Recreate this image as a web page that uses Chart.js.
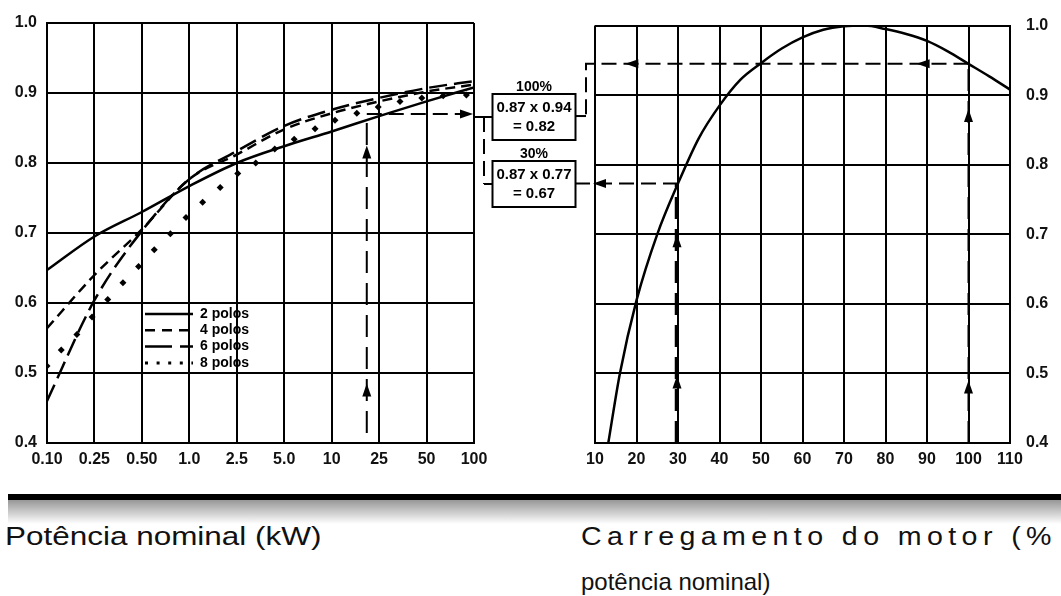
<!DOCTYPE html>
<html>
<head>
<meta charset="utf-8">
<script src="https://cdn.jsdelivr.net/npm/chart.js@4.4.0/dist/chart.umd.min.js"></script>
<style>
  body { margin: 0; background: #fff; width: 1061px; height: 596px; overflow: hidden; position: relative; font-family: "Liberation Sans", Arial, sans-serif; }
  canvas { position: absolute; top: 0; }
  #left { left: 0; }
  #right { left: 560px; }
  .bar { position: absolute; left: 8px; top: 494px; width: 1053px; height: 6px; background: #000; }
  .shade { position: absolute; left: 8px; top: 500px; width: 1053px; height: 24px; background: linear-gradient(#979797, #fff); }
  .cap { position: absolute; font-size: 26px; line-height: 26px; color: #111; white-space: nowrap; transform-origin: left top; }
  #capL { left: 5px; top: 523px; transform: scaleX(1.21); }
  #capR1 { left: 581px; top: 523px; letter-spacing: 4.9px; transform: scaleX(1.1); }
  #capR2 { left: 581px; top: 570px; font-size: 24px; line-height: 24px; }
</style>
</head>
<body>
<canvas id="left" width="600" height="480"></canvas>
<canvas id="right" width="501" height="480"></canvas>
<div class="bar"></div>
<div class="shade"></div>
<div class="cap" id="capL">Potência nominal (kW)</div>
<div class="cap" id="capR1">Carregamento do motor (%</div>
<div class="cap" id="capR2">potência nominal)</div>

<script>
// left panel: power factor vs rated power (x = position of the kW tick)
const kwLabels = ['0.10', '0.25', '0.50', '1.0', '2.5', '5.0', '10', '25', '50', '100'];
const kwPos = [0, 1, 2, 3, 4, 5, 6, 7, 8, 9];
const pf2 = [0.647, 0.695, 0.730, 0.767, 0.800, 0.824, 0.845, 0.867, 0.888, 0.908];
const pf4 = [0.564, 0.640, 0.705, 0.777, 0.812, 0.848, 0.871, 0.888, 0.902, 0.912];
const pf6 = [0.460, 0.604, 0.703, 0.777, 0.817, 0.853, 0.876, 0.893, 0.907, 0.917];
const pf8Pos = [0, 0.3, 0.63, 0.95, 1.28, 1.6, 1.93, 2.26, 2.6, 2.93, 3.28, 3.65, 4.02, 4.4, 4.8, 5.21, 5.65, 6.07, 6.53, 6.98, 7.44, 7.9, 8.35, 8.84];
const pf8 = [0.51, 0.533, 0.555, 0.58, 0.605, 0.629, 0.652, 0.676, 0.699, 0.722, 0.744, 0.765, 0.785, 0.80, 0.82, 0.834, 0.849, 0.861, 0.871, 0.88, 0.888, 0.893, 0.896, 0.897];
const poleNames = ['2 polos', '4 polos', '6 polos', '8 polos'];

// right panel: efficiency factor vs motor load
const loadPct = [13.2, 16, 20, 25, 30, 35, 40, 45, 50, 55, 60, 65, 70, 75, 80, 85, 90, 95, 100, 105, 110];
const loadEff = [0.40, 0.50, 0.605, 0.70, 0.773, 0.838, 0.885, 0.922, 0.946, 0.967, 0.983, 0.994, 0.999, 1.0, 0.995, 0.988, 0.978, 0.963, 0.945, 0.927, 0.908];

// worked example
const kwMark = 6.74;        // 22 kW motor
const pfMark = 0.87;
const loadCases = ['100%', '30%'];
const loadCaseX = [100, 30];
const loadCaseEff = [0.94, 0.77];
const loadCaseY = [0.945, 0.773];

Chart.defaults.font.family = '"Liberation Sans", Arial, sans-serif';
Chart.defaults.color = '#111';

function arrow(ctx, x, y, dir) {
  const L = 13, W = 4.5;
  ctx.beginPath();
  ctx.moveTo(x, y);
  if (dir === 'up') { ctx.lineTo(x - W, y + L); ctx.lineTo(x + W, y + L); }
  else if (dir === 'left') { ctx.lineTo(x + L, y - W); ctx.lineTo(x + L, y + W); }
  else { ctx.lineTo(x - L, y - W); ctx.lineTo(x - L, y + W); }
  ctx.closePath();
  ctx.fill();
}

function seg(ctx, pts, dash) {
  ctx.setLineDash(dash || []);
  ctx.beginPath();
  pts.forEach((p, i) => i ? ctx.lineTo(p[0], p[1]) : ctx.moveTo(p[0], p[1]));
  ctx.stroke();
  ctx.setLineDash([]);
}

const legendDash = [[], [10, 7], [27, 8], [3, 8.6]];

const leftNotes = {
  id: 'leftNotes',
  afterDraw(chart) {
    const { ctx, chartArea: a, scales: { x, y } } = chart;
    ctx.save();
    ctx.strokeStyle = '#000';
    ctx.fillStyle = '#000';
    ctx.lineWidth = 2;

    // legend box inside plot
    ctx.font = 'bold 14px "Liberation Sans", Arial, sans-serif';
    ctx.textBaseline = 'middle';
    ctx.textAlign = 'left';
    poleNames.forEach((name, i) => {
      const ly = a.top + 291 + i * 16.3;
      ctx.lineWidth = i === 3 ? 3 : 2.5;
      seg(ctx, [[a.left + 98, ly], [a.left + 146, ly]], legendDash[i]);
      ctx.fillText(name, a.left + 153, ly);
    });
    ctx.lineWidth = 2;

    // reading at 22 kW
    const px = x.getPixelForValue(kwMark);
    const py = y.getPixelForValue(pfMark);
    seg(ctx, [[px, a.bottom - 10], [px, py]], [22, 10]);
    arrow(ctx, px, y.getPixelForValue(0.825), 'up');
    arrow(ctx, px, y.getPixelForValue(0.485), 'up');
    seg(ctx, [[px, py], [a.right - 3, py]], [15, 7]);
    arrow(ctx, a.right - 1, py, 'right');

    // result boxes
    const boxL = a.right + 18.5, boxW = 83, boxH = 46;
    const cy = [py + 3, y.getPixelForValue(0.77)];
    seg(ctx, [[a.right, py + 3], [boxL, py + 3]]);
    seg(ctx, [[a.right + 10, py + 3], [a.right + 10, cy[1]]], [15, 7]);
    seg(ctx, [[a.right + 10, cy[1]], [boxL, cy[1]]]);
    ctx.textAlign = 'center';
    loadCases.forEach((lbl, i) => {
      const top = cy[i] - boxH / 2;
      ctx.strokeRect(boxL, top, boxW, boxH);
      const mx = boxL + boxW / 2;
      ctx.font = 'bold 14px "Liberation Sans", Arial, sans-serif';
      ctx.fillText(lbl, mx, top - 7);
      ctx.font = 'bold 15px "Liberation Sans", Arial, sans-serif';
      ctx.fillText(pfMark.toFixed(2) + ' x ' + loadCaseEff[i].toFixed(2), mx, top + 14);
      ctx.fillText('= ' + (pfMark * loadCaseEff[i]).toFixed(2), mx, top + 33);
    });
    ctx.restore();
  }
};

const rightNotes = {
  id: 'rightNotes',
  afterDraw(chart) {
    const { ctx, chartArea: a, scales: { x, y } } = chart;
    ctx.save();
    ctx.strokeStyle = '#000';
    ctx.fillStyle = '#000';
    ctx.lineWidth = 2;
    const boxR = a.left - 19;

    // 100 % load
    const x1 = x.getPixelForValue(loadCaseX[0]), y1 = y.getPixelForValue(loadCaseY[0]);
    seg(ctx, [[x1, a.bottom], [x1, y1]], [22, 10]);
    arrow(ctx, x1, y.getPixelForValue(0.88), 'up');
    arrow(ctx, x1, y.getPixelForValue(0.49), 'up');
    const cx = a.left - 9;
    const yb = y.getPixelForValue(pfMark);
    seg(ctx, [[x1, y1], [cx, y1], [cx, yb]], [15, 7]);
    arrow(ctx, x.getPixelForValue(87.5), y1, 'left');
    arrow(ctx, x.getPixelForValue(17.3), y1, 'left');
    seg(ctx, [[cx, yb], [boxR, yb]]);

    // 30 % load (dashes sit just left of the 30 grid line)
    const x2 = x.getPixelForValue(loadCaseX[1]), y2 = y.getPixelForValue(loadCaseY[1]);
    ctx.lineWidth = 2.5;
    seg(ctx, [[x2 - 2, a.bottom], [x2 - 2, y2]], [22, 10]);
    ctx.lineWidth = 2;
    arrow(ctx, x2 - 1, y.getPixelForValue(0.70), 'up');
    arrow(ctx, x2 - 1, y.getPixelForValue(0.497), 'up');
    seg(ctx, [[x2, y2], [boxR, y2]], [15, 7]);
    arrow(ctx, a.left - 2, y2, 'left');
    ctx.restore();
  }
};

const gridOpts = { color: '#000', lineWidth: 2, drawTicks: false };
const borderOpts = { color: '#000', width: 2 };
const tickFont = { size: 16, weight: 'bold' };
const yTickCb = v => v.toFixed(1);

new Chart(document.getElementById('left'), {
  type: 'line',
  data: {
    datasets: [
      { label: poleNames[0], data: kwPos.map((p, i) => ({ x: p, y: pf2[i] })), borderColor: '#000', borderWidth: 2.5, pointRadius: 0, cubicInterpolationMode: 'monotone' },
      { label: poleNames[1], data: kwPos.map((p, i) => ({ x: p, y: pf4[i] })), borderColor: '#000', borderWidth: 2.5, borderDash: [10, 6], pointRadius: 0, cubicInterpolationMode: 'monotone' },
      { label: poleNames[2], data: kwPos.map((p, i) => ({ x: p, y: pf6[i] })), borderColor: '#000', borderWidth: 2.5, borderDash: [18, 7], pointRadius: 0, cubicInterpolationMode: 'monotone' },
      { label: poleNames[3], data: pf8Pos.map((p, i) => ({ x: p, y: pf8[i] })), showLine: false, pointStyle: 'rectRot', pointRadius: 3.5, pointBackgroundColor: '#000', pointBorderWidth: 0 }
    ]
  },
  options: {
    responsive: false,
    animation: false,
    layout: { padding: { left: 0, right: 126, top: 23, bottom: 0 } },
    plugins: { legend: { display: false }, tooltip: { enabled: false } },
    scales: {
      x: {
        type: 'linear', min: 0, max: 9,
        grid: gridOpts, border: borderOpts,
        afterFit: s => { s.height = 37; },
        ticks: { stepSize: 1, autoSkip: false, maxRotation: 0, padding: 7, font: tickFont, callback: v => kwLabels[v] ?? '' }
      },
      y: {
        min: 0.4, max: 1.0,
        grid: gridOpts, border: borderOpts,
        afterFit: s => { s.width = 47; },
        ticks: { stepSize: 0.1, padding: 10, font: tickFont, callback: yTickCb }
      }
    }
  },
  plugins: [leftNotes]
});

new Chart(document.getElementById('right'), {
  type: 'line',
  data: {
    datasets: [
      { label: 'Rendimento', data: loadPct.map((p, i) => ({ x: p, y: loadEff[i] })), borderColor: '#000', borderWidth: 2.5, pointRadius: 0, cubicInterpolationMode: 'monotone' }
    ]
  },
  options: {
    responsive: false,
    animation: false,
    layout: { padding: { left: 35, right: 0, top: 23, bottom: 0 } },
    plugins: { legend: { display: false }, tooltip: { enabled: false } },
    scales: {
      x: {
        type: 'linear', min: 10, max: 110,
        grid: gridOpts, border: borderOpts,
        afterFit: s => { s.height = 37; },
        ticks: { stepSize: 10, autoSkip: false, maxRotation: 0, padding: 7, font: tickFont }
      },
      y: {
        position: 'right',
        min: 0.4, max: 1.0,
        grid: gridOpts, border: borderOpts,
        afterFit: s => { s.width = 51; },
        ticks: { stepSize: 0.1, padding: 16, font: tickFont, callback: yTickCb }
      }
    }
  },
  plugins: [rightNotes]
});
</script>
</body>
</html>
